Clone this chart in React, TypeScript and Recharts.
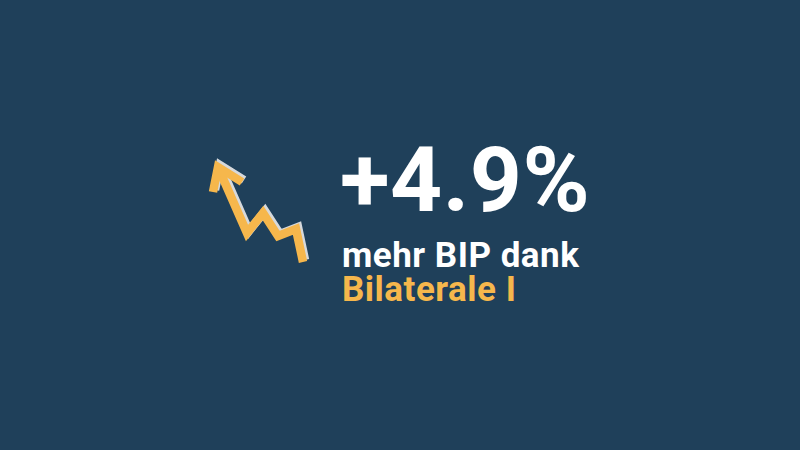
import React from "react";
import { ComposedChart, Line, XAxis, YAxis } from "recharts";

// Zig-zag arrow path (x right, y up)
const zigX = [113, 106, 88, 73, 57, 28];
const zigY = [18, 51, 44, 67, 47, 113];
// Arrowhead: left barb end, tip, right barb end
const headX = [23, 28, 52];
const headY = [88, 113, 98];

const headline = "+4.9%";
const line1 = "mehr BIP dank";
const line2 = "Bilaterale I";

const zigData = zigX.map((x, i) => ({ x, y: zigY[i] }));
const headData = headX.map((x, i) => ({ x, y: headY[i] }));

const BG = "#1f405a";
const YELLOW = "#f6b74c";
const SHADOW = "#d6d9dc";

function Arrow({ color }: { color: string }) {
  return (
    <ComposedChart width={140} height={130} margin={{ top: 0, right: 0, bottom: 0, left: 0 }}>
      <XAxis type="number" dataKey="x" domain={[0, 140]} hide allowDataOverflow />
      <YAxis type="number" dataKey="y" domain={[0, 130]} hide allowDataOverflow />
      <Line data={zigData} dataKey="y" stroke={color} strokeWidth={8.5} dot={false}
        strokeLinejoin="miter" strokeLinecap="butt" isAnimationActive={false} type="linear" />
      <Line data={headData} dataKey="y" stroke={color} strokeWidth={8.5} dot={false}
        strokeLinejoin="miter" strokeLinecap="butt" isAnimationActive={false} type="linear" />
    </ComposedChart>
  );
}

export default function App() {
  const font = "Roboto, 'Noto Sans', sans-serif";
  return (
    <div style={{ position: "fixed", left: 0, top: 0, width: 800, height: 450, background: BG, overflow: "hidden" }}>
      <div style={{ position: "absolute", left: 192, top: 148 }}>
        <Arrow color={SHADOW} />
      </div>
      <div style={{ position: "absolute", left: 190, top: 150 }}>
        <Arrow color={YELLOW} />
      </div>
      <div style={{ position: "absolute", left: 340, top: 135, fontFamily: font, fontWeight: 700, fontSize: 91, lineHeight: "91px", color: "#ffffff", letterSpacing: 0.5, whiteSpace: "nowrap" }}>
        {headline}
      </div>
      <div style={{ position: "absolute", left: 342, top: 239, fontFamily: font, fontWeight: 700, fontSize: 35, lineHeight: "33px", color: "#ffffff", letterSpacing: 0.5, whiteSpace: "nowrap" }}>
        {line1}
      </div>
      <div style={{ position: "absolute", left: 342, top: 273, fontFamily: font, fontWeight: 700, fontSize: 35, lineHeight: "33px", color: YELLOW, letterSpacing: 0.5, whiteSpace: "nowrap" }}>
        {line2}
      </div>
    </div>
  );
}
